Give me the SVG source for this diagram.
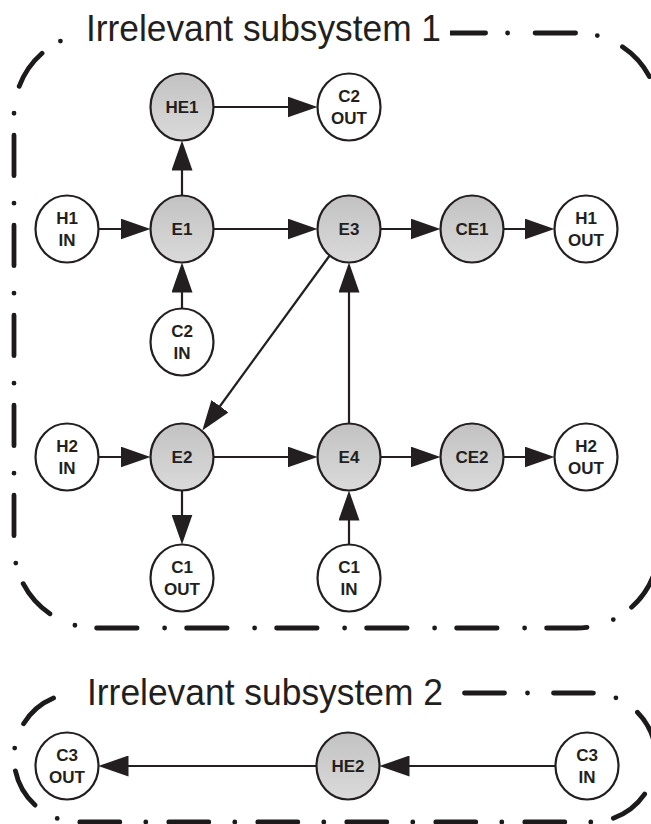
<svg xmlns="http://www.w3.org/2000/svg" width="651" height="824" viewBox="0 0 651 824">
  <style>
    .frame { fill: none; stroke: #1c1a1b; stroke-width: 4.8; stroke-linecap: round; stroke-linejoin: round; }
    .title { font-family: "Liberation Sans", Arial, sans-serif; font-size: 37px; fill: #231f20; }
    .node ellipse { stroke: #231f20; stroke-width: 2.2; }
    .plain ellipse { fill: #ffffff; }
    .shaded ellipse { fill: url(#shade); }
    .node text { font-family: "Liberation Sans", Arial, sans-serif; font-weight: bold; font-size: 17px; fill: #231f20; text-anchor: middle; }
    .edge { stroke: #231f20; stroke-width: 2.2; fill: none; marker-end: url(#head); }
  </style>
  <defs>
    <linearGradient id="shade" x1="0" y1="0" x2="0" y2="1">
      <stop offset="0" stop-color="#c2c2c2"/>
      <stop offset="1" stop-color="#dadada"/>
    </linearGradient>
    <marker id="head" markerUnits="userSpaceOnUse" markerWidth="30" markerHeight="21" refX="22" refY="10.5" orient="auto">
      <path d="M0,0 L30,10.5 L0,21 Z" fill="#231f20"/>
    </marker>
  </defs>

  <rect width="651" height="824" fill="#ffffff"/>

  <!-- subsystem frames (dash-dot outlines) -->
  <g id="subsystem1">
    <path class="frame" stroke-dasharray="0 22 40.5 27.5" stroke-dashoffset="53.2"
          d="M96,33 A82,82 0 0 0 14,115 L14,546 A82,82 0 0 0 96,628 L577,628 A82,82 0 0 0 659,546 L659,115 A82,82 0 0 0 577,33 Z"/>
    <rect x="66" y="6" width="384" height="46" fill="#ffffff"/>
    <text class="title" x="86" y="41" textLength="355" lengthAdjust="spacingAndGlyphs">Irrelevant subsystem 1</text>
  </g>
  <g id="subsystem2">
    <path class="frame" stroke-dasharray="0 23 40 26" stroke-dashoffset="86.4"
          d="M78.5,693 A64.5,64.5 0 0 0 14,757.5 A64.5,64.5 0 0 0 78.5,822 L591.5,822 A64.5,64.5 0 0 0 656,757.5 A64.5,64.5 0 0 0 591.5,693 Z"/>
    <rect x="68" y="668" width="384" height="46" fill="#ffffff"/>
    <text class="title" x="87" y="705" textLength="356" lengthAdjust="spacingAndGlyphs">Irrelevant subsystem 2</text>
  </g>

  <!-- connectors -->
  <g id="connectors">
    <line class="edge" x1="213.5" y1="107" x2="309.5" y2="107"/>
    <line class="edge" x1="98.5" y1="229" x2="142.5" y2="229"/>
    <line class="edge" x1="213.5" y1="229" x2="309.5" y2="229"/>
    <line class="edge" x1="380.5" y1="229" x2="432.5" y2="229"/>
    <line class="edge" x1="503.5" y1="229" x2="546.5" y2="229"/>
    <line class="edge" x1="182" y1="195.5" x2="182" y2="148.5"/>
    <line class="edge" x1="182" y1="308.5" x2="182" y2="270.5"/>
    <line class="edge" x1="349" y1="423.5" x2="349" y2="270.5"/>
    <line class="edge" x1="329.7" y1="255.5" x2="207" y2="424"/>
    <line class="edge" x1="98.5" y1="457" x2="142.5" y2="457"/>
    <line class="edge" x1="213.5" y1="457" x2="309.5" y2="457"/>
    <line class="edge" x1="380.5" y1="457" x2="432.5" y2="457"/>
    <line class="edge" x1="503.5" y1="457" x2="546.5" y2="457"/>
    <line class="edge" x1="182" y1="490.5" x2="182" y2="536.5"/>
    <line class="edge" x1="349" y1="544.5" x2="349" y2="498.5"/>
    <line class="edge" x1="555.5" y1="766" x2="387.5" y2="766"/>
    <line class="edge" x1="316.5" y1="766" x2="106.5" y2="766"/>
  </g>

  <!-- nodes -->
  <g id="HE1" class="node shaded"><ellipse cx="182" cy="107" rx="31.5" ry="33.5"/><text x="182" y="113">HE1</text></g>
  <g id="C2_OUT" class="node plain"><ellipse cx="349" cy="107" rx="31.5" ry="33.5"/><text x="349" y="102">C2</text><text x="349" y="124">OUT</text></g>
  <g id="H1_IN" class="node plain"><ellipse cx="67" cy="229" rx="31.5" ry="33.5"/><text x="67" y="224">H1</text><text x="67" y="246">IN</text></g>
  <g id="E1" class="node shaded"><ellipse cx="182" cy="229" rx="31.5" ry="33.5"/><text x="182" y="235">E1</text></g>
  <g id="E3" class="node shaded"><ellipse cx="349" cy="229" rx="31.5" ry="33.5"/><text x="349" y="235">E3</text></g>
  <g id="CE1" class="node shaded"><ellipse cx="472" cy="229" rx="31.5" ry="33.5"/><text x="472" y="235">CE1</text></g>
  <g id="H1_OUT" class="node plain"><ellipse cx="586" cy="229" rx="31.5" ry="33.5"/><text x="586" y="224">H1</text><text x="586" y="246">OUT</text></g>
  <g id="C2_IN" class="node plain"><ellipse cx="182" cy="342" rx="31.5" ry="33.5"/><text x="182" y="337">C2</text><text x="182" y="359">IN</text></g>
  <g id="H2_IN" class="node plain"><ellipse cx="67" cy="457" rx="31.5" ry="33.5"/><text x="67" y="452">H2</text><text x="67" y="474">IN</text></g>
  <g id="E2" class="node shaded"><ellipse cx="182" cy="457" rx="31.5" ry="33.5"/><text x="182" y="463">E2</text></g>
  <g id="E4" class="node shaded"><ellipse cx="349" cy="457" rx="31.5" ry="33.5"/><text x="349" y="463">E4</text></g>
  <g id="CE2" class="node shaded"><ellipse cx="472" cy="457" rx="31.5" ry="33.5"/><text x="472" y="463">CE2</text></g>
  <g id="H2_OUT" class="node plain"><ellipse cx="586" cy="457" rx="31.5" ry="33.5"/><text x="586" y="452">H2</text><text x="586" y="474">OUT</text></g>
  <g id="C1_OUT" class="node plain"><ellipse cx="182" cy="578" rx="31.5" ry="33.5"/><text x="182" y="573">C1</text><text x="182" y="595">OUT</text></g>
  <g id="C1_IN" class="node plain"><ellipse cx="349" cy="578" rx="31.5" ry="33.5"/><text x="349" y="573">C1</text><text x="349" y="595">IN</text></g>
  <g id="C3_OUT" class="node plain"><ellipse cx="67" cy="766" rx="31.5" ry="33.5"/><text x="67" y="761">C3</text><text x="67" y="783">OUT</text></g>
  <g id="HE2" class="node shaded"><ellipse cx="348" cy="766" rx="31.5" ry="33.5"/><text x="348" y="772">HE2</text></g>
  <g id="C3_IN" class="node plain"><ellipse cx="587" cy="766" rx="31.5" ry="33.5"/><text x="587" y="761">C3</text><text x="587" y="783">IN</text></g>
</svg>
